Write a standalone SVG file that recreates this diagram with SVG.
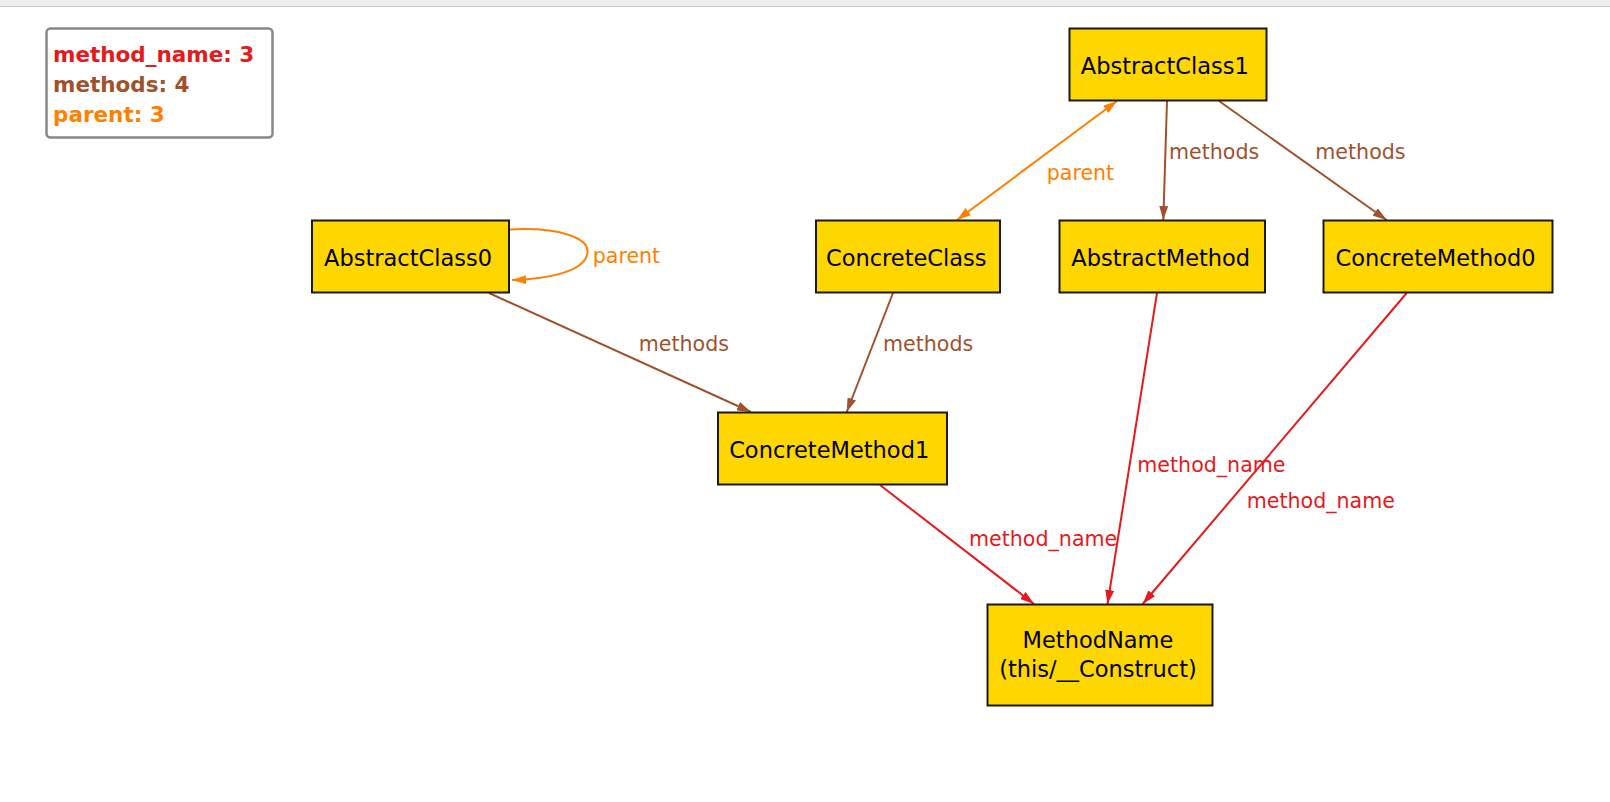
<svg xmlns="http://www.w3.org/2000/svg" width="1610" height="802" viewBox="0 0 1610 802">
<style>
.node rect{fill:#FFD700;stroke:#1a1a1a;stroke-width:2}
.node text{font-family:"DejaVu Sans",sans-serif;font-size:22.5px;fill:#000;text-anchor:middle}
.lbl{font-family:"DejaVu Sans",sans-serif;font-size:20.6px}
.e{fill:none;stroke-width:2}
.red{stroke:#E41A1C}.brown{stroke:#A0522D}.orange{stroke:#FF7F00}
.tred{fill:#E41A1C}.tbrown{fill:#A0522D}.torange{fill:#FF7F00}
.leg{font-family:"DejaVu Sans",sans-serif;font-size:21.5px;font-weight:bold}
</style>
<defs>
<marker id="ar" viewBox="0 0 14 9" refX="14" refY="4.5" markerWidth="14" markerHeight="9" markerUnits="userSpaceOnUse" orient="auto"><path d="M0,0L14,4.5L0,9z" fill="#E41A1C"/></marker>
<marker id="ab" viewBox="0 0 14 9" refX="14" refY="4.5" markerWidth="14" markerHeight="9" markerUnits="userSpaceOnUse" orient="auto"><path d="M0,0L14,4.5L0,9z" fill="#A0522D"/></marker>
<marker id="ao" viewBox="0 0 14 9" refX="14" refY="4.5" markerWidth="14" markerHeight="9" markerUnits="userSpaceOnUse" orient="auto-start-reverse"><path d="M0,0L14,4.5L0,9z" fill="#FF7F00"/></marker>
</defs>
<rect x="0" y="0" width="1610" height="802" fill="#fff"/>
<rect x="0" y="0" width="1610" height="6" fill="#EEEEEE"/>
<line x1="0" y1="6.5" x2="1610" y2="6.5" stroke="#C8C8C8" stroke-width="1"/>
<g id="legend">
<rect x="46.5" y="28.5" width="226" height="109" rx="4" fill="#fff" stroke="#888" stroke-width="2.5"/>
<text x="53" y="62" class="leg tred">method_name: 3</text>
<text x="53" y="92" class="leg tbrown">methods: 4</text>
<text x="53" y="122" class="leg torange">parent: 3</text>
</g>
<g id="connectors">
<path class="e orange" d="M509,229.5 C560,227 592,238 587,255 C583,271 550,279 512,280" marker-end="url(#ao)"/>
<text x="592.7" y="263.3" class="lbl torange">parent</text>
<line class="e orange" x1="957" y1="220" x2="1117" y2="101" marker-start="url(#ao)" marker-end="url(#ao)"/>
<text x="1046.7" y="180" class="lbl torange">parent</text>
<line class="e brown" x1="1167" y1="101" x2="1163.3" y2="220" marker-end="url(#ab)"/>
<text x="1169" y="159.3" class="lbl tbrown">methods</text>
<line class="e brown" x1="1219" y1="101" x2="1386.7" y2="220" marker-end="url(#ab)"/>
<text x="1315.3" y="159.3" class="lbl tbrown">methods</text>
<line class="e brown" x1="489" y1="293" x2="751" y2="412" marker-end="url(#ab)"/>
<text x="638.7" y="351" class="lbl tbrown">methods</text>
<line class="e brown" x1="893" y1="293" x2="846.7" y2="412" marker-end="url(#ab)"/>
<text x="883" y="351" class="lbl tbrown">methods</text>
<line class="e red" x1="880" y1="485" x2="1034" y2="604" marker-end="url(#ar)"/>
<text x="969" y="545.7" class="lbl tred">method_name</text>
<line class="e red" x1="1157" y1="293" x2="1107.5" y2="604" marker-end="url(#ar)"/>
<text x="1137.3" y="471.7" class="lbl tred">method_name</text>
<line class="e red" x1="1406.7" y1="293" x2="1142.7" y2="604" marker-end="url(#ar)"/>
<text x="1246.7" y="507.7" class="lbl tred">method_name</text>
</g>
<g id="AbstractClass1" class="node"><rect x="1069.5" y="28.5" width="197" height="72"/><text x="1164.8" y="74">AbstractClass1</text></g>
<g id="AbstractClass0" class="node"><rect x="312" y="220.5" width="197" height="72"/><text x="408" y="265.7">AbstractClass0</text></g>
<g id="ConcreteClass" class="node"><rect x="816" y="220.5" width="184" height="72"/><text x="906.3" y="265.7">ConcreteClass</text></g>
<g id="AbstractMethod" class="node"><rect x="1059.5" y="220.5" width="205.5" height="72"/><text x="1160.7" y="265.7">AbstractMethod</text></g>
<g id="ConcreteMethod0" class="node"><rect x="1323.5" y="220.5" width="229" height="72"/><text x="1435.5" y="265.7">ConcreteMethod0</text></g>
<g id="ConcreteMethod1" class="node"><rect x="718" y="412.5" width="229" height="72"/><text x="829.2" y="457.7">ConcreteMethod1</text></g>
<g id="MethodName" class="node"><rect x="987.5" y="604.5" width="225" height="101"/><text x="1098" y="648.3">MethodName</text><text x="1098" y="677.3">(this/__Construct)</text></g>
</svg>
